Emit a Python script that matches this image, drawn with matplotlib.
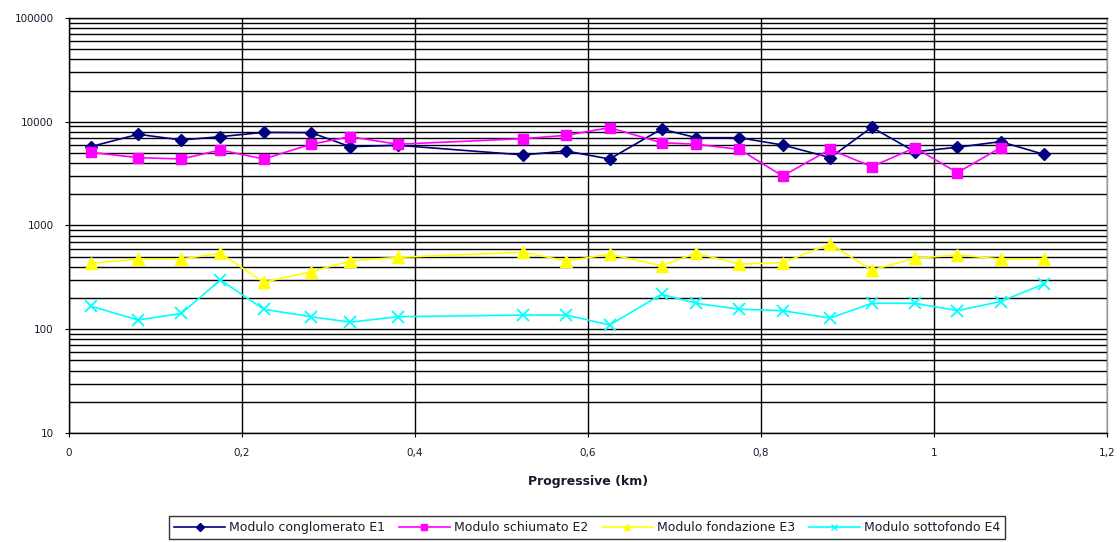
import matplotlib
matplotlib.use('Agg')
import matplotlib.pyplot as plt
from matplotlib.ticker import LogLocator, FixedLocator, NullFormatter, FuncFormatter
from matplotlib.lines import Line2D

plt.rcParams['font.family'] = ['DejaVu Sans']

# progressive (km)
km = [0.025, 0.08, 0.13, 0.175, 0.225, 0.28, 0.325, 0.38, 0.525, 0.575, 0.625,
      0.685, 0.725, 0.775, 0.825, 0.88, 0.928, 0.978, 1.027, 1.077, 1.127]

e1 = [5750, 7570, 6670, 7180, 7900, 7850, 5750, 5930, 4790, 5220, 4375,
      8510, 7020, 7020, 5970, 4510, 8830, 5140, 5680, 6430, 4850]
e2 = [5070, 4510, 4375, 5345, 4375, 6070, 7180, 6070, 6870, 7400, 8770,
      6280, 6070, 5420, 3000, 5420, 3690, 5620, 3230, 5620]
e3 = [432, 475, 475, 540, 284, 359, 455, 493, 552, 455, 527,
      410, 540, 425, 438, 664, 372, 483, 520, 475, 475]
e4 = [167, 123, 142, 299, 156, 132, 117, 132, 137, 137, 110,
      217, 178, 156, 151, 128, 178, 178, 151, 185, 273]

labels = ['Modulo conglomerato E1', 'Modulo schiumato E2',
          'Modulo fondazione E3', 'Modulo sottofondo E4']
x_ticks = [0, 0.2, 0.4, 0.6, 0.8, 1.0, 1.2]

fig = plt.figure(figsize=(11.2, 5.42), dpi=100)
ax = fig.add_axes([0.0616, 0.2011, 0.9268, 0.7657])
ax.set_yscale('log')
ax.set_ylim(10, 100000)
ax.set_xlim(0, 1.2)

# griglia: righe orizzontali su ogni minore, verticali sui maggiori
ax.yaxis.set_major_locator(LogLocator(base=10, numticks=10))
ax.yaxis.set_minor_locator(LogLocator(base=10, subs=range(2, 10), numticks=50))
ax.yaxis.set_minor_formatter(NullFormatter())
ax.yaxis.set_major_formatter(FuncFormatter(lambda v, p: '%d' % round(v)))
ax.grid(True, which='both', axis='y', color='black', linewidth=1.0)
ax.xaxis.set_major_locator(FixedLocator(x_ticks))
ax.xaxis.set_major_formatter(FuncFormatter(lambda v, p: ('%g' % round(v, 1)).replace('.', ',')))
ax.grid(True, which='major', axis='x', color='black', linewidth=1.0)
ax.set_axisbelow(True)

ax.tick_params(axis='y', which='minor', length=0)
ax.tick_params(axis='both', which='major', length=3, labelsize=7.5, pad=8,
               labelcolor='#1a1a2e')

for s in ax.spines.values():
    s.set_color('black')
    s.set_linewidth(1.0)
ax.spines['right'].set_color('#999999')

ax.plot(km, e1, color='#000080', marker='D', markersize=6, linewidth=1.2)
ax.plot(km[:len(e2)], e2, color='#FF00FF', marker='s', markersize=7, linewidth=1.2)
ax.plot(km, e3, color='#FFFF00', marker='^', markersize=8, linewidth=1.2)
ax.plot(km, e4, color='#00FFFF', marker='x', markersize=8, markeredgewidth=1.3, linewidth=1.2)

ax.set_xlabel('Progressive (km)', fontsize=9, fontweight='bold', labelpad=12,
              color='#1a1a2e')

handles = [
    Line2D([], [], color='#000080', marker='D', markersize=4, linewidth=1.2),
    Line2D([], [], color='#FF00FF', marker='s', markersize=4, linewidth=1.2),
    Line2D([], [], color='#FFFF00', marker='^', markersize=5, linewidth=1.2),
    Line2D([], [], color='#00FFFF', marker='x', markersize=5, linewidth=1.2),
]
leg = fig.legend(handles, labels, loc='lower center', bbox_to_anchor=(0.524, -0.006),
                 ncol=4, fontsize=9, frameon=True, fancybox=False,
                 handlelength=4.1, handletextpad=0.3, columnspacing=1.1,
                 borderpad=0.4)
leg.get_frame().set_edgecolor('black')
leg.get_frame().set_linewidth(1.0)
for t in leg.get_texts():
    t.set_color('#1a1a2e')

fig.savefig('out.png', dpi=100)
